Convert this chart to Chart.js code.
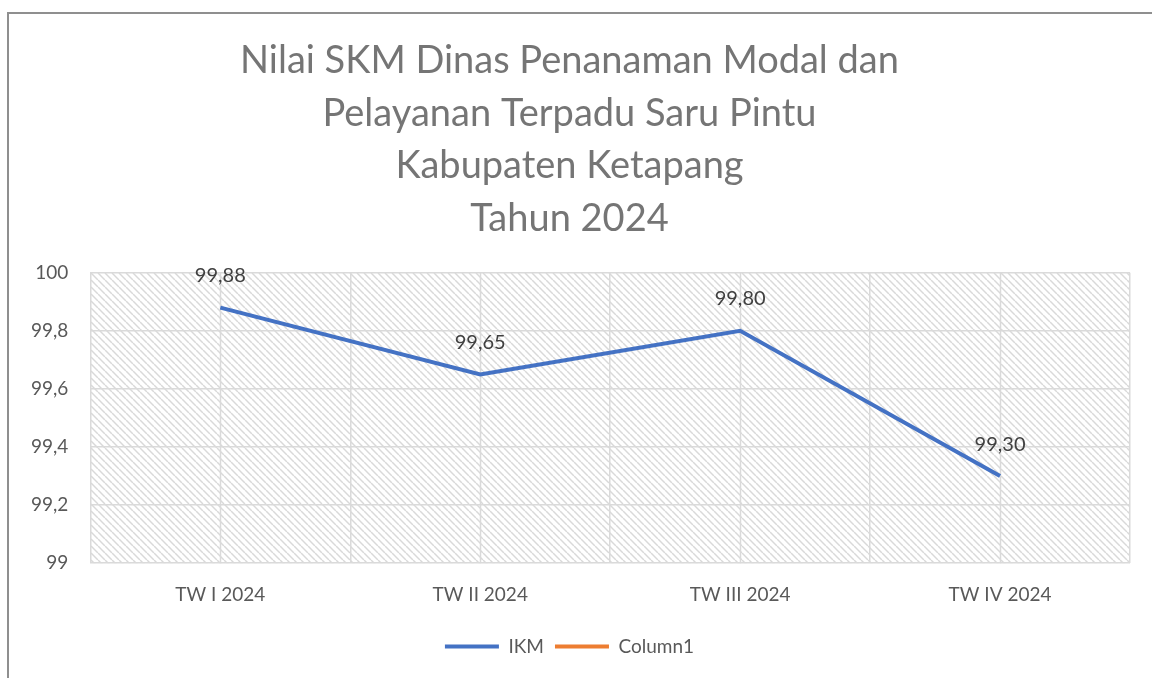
<!DOCTYPE html>
<html>
<head>
<meta charset="utf-8">
<script src="https://cdn.jsdelivr.net/npm/chart.js@4.4.0/dist/chart.umd.min.js"></script>
<style>
  html, body { margin: 0; padding: 0; background: #fff; overflow: hidden; }
  #frame {
    position: absolute; left: 7px; top: 12px; width: 1200px; height: 700px;
    border-left: 2px solid #8f8f8f; border-top: 2px solid #8f8f8f;
  }
  #wrap { position: absolute; left: 0; top: 0; width: 1152px; height: 678px; }
</style>
</head>
<body>
<div id="frame"></div>
<div id="wrap"><canvas id="skmChart"></canvas></div>
<script>
// --- Data ---
const quarters = ['TW I 2024', 'TW II 2024', 'TW III 2024', 'TW IV 2024'];
const ikmValues = [99.88, 99.65, 99.80, 99.30];
const column1Values = [];
const titleLines = ['Nilai SKM Dinas Penanaman Modal dan', 'Pelayanan Terpadu Saru Pintu', 'Kabupaten Ketapang', 'Tahun 2024'];

const fontFamily = 'Lato, "Open Sans", sans-serif';

// diagonal hatch for the plot background
function makeHatch() {
    const size = 7;
    const c = document.createElement('canvas');
    c.width = size; c.height = size;
    const g = c.getContext('2d');
    g.strokeStyle = '#d9d9d9';
    g.lineWidth = 1.5;
    [-size, 0, size].forEach(x0 => {
        g.beginPath();
        g.moveTo(x0, 0);
        g.lineTo(x0 + size, size);
        g.stroke();
    });
    return g.createPattern(c, 'repeat');
}

const plotBackground = {
    id: 'plotBackground',
    beforeDraw(chart) {
        const { ctx, chartArea: a } = chart;
        ctx.save();
        ctx.fillStyle = makeHatch();
        ctx.fillRect(a.left, a.top, a.right - a.left, a.bottom - a.top);
        ctx.restore();
    }
};

// extra vertical gridlines through the category centres
const centreLines = {
    id: 'centreLines',
    beforeDatasetsDraw(chart) {
        const { ctx, chartArea: a, scales: { x } } = chart;
        ctx.save();
        ctx.strokeStyle = '#dadada';
        ctx.lineWidth = 1.5;
        quarters.forEach((q, i) => {
            const px = Math.round(x.getPixelForValue(i)) + 0.5;
            ctx.beginPath();
            ctx.moveTo(px, a.top);
            ctx.lineTo(px, a.bottom);
            ctx.stroke();
        });
        ctx.restore();
    }
};

const fmt = v => v.toFixed(2).replace('.', ',');

const valueLabels = {
    id: 'valueLabels',
    afterDatasetsDraw(chart) {
        const { ctx } = chart;
        const meta = chart.getDatasetMeta(0);
        ctx.save();
        ctx.font = '20px ' + fontFamily;
        ctx.fillStyle = '#404040';
        ctx.textAlign = 'center';
        ctx.textBaseline = 'middle';
        meta.data.forEach((pt, i) => {
            ctx.fillText(fmt(ikmValues[i]), pt.x, pt.y - 32);
        });
        ctx.restore();
    }
};

new Chart(document.getElementById('skmChart'), {
    type: 'line',
    data: {
        labels: quarters,
        datasets: [{
            label: 'IKM',
            data: ikmValues,
            borderColor: '#4472C4',
            backgroundColor: '#4472C4',
            borderWidth: 4,
            pointRadius: 0,
            tension: 0
        }, {
            label: 'Column1',
            data: column1Values,
            borderColor: '#ED7D31',
            backgroundColor: '#ED7D31',
            borderWidth: 4,
            pointRadius: 0
        }]
    },
    options: {
        responsive: true,
        maintainAspectRatio: false,
        animation: false,
        layout: { padding: { left: 9, right: 22, top: 0, bottom: 12 } },
        scales: {
            x: {
                offset: true,
                grid: { color: '#dadada', lineWidth: 1.5, drawTicks: false, offset: true },
                border: { display: false },
                ticks: { color: '#595959', font: { family: fontFamily, size: 19 }, padding: 20 }
            },
            y: {
                min: 99,
                max: 100,
                grid: { color: '#dadada', lineWidth: 1.5, drawTicks: false },
                border: { display: false },
                ticks: {
                    stepSize: 0.2,
                    color: '#595959',
                    font: { family: fontFamily, size: 19 },
                    padding: 22,
                    callback: v => Number.isInteger(v) ? String(v) : v.toFixed(1).replace('.', ',')
                }
            }
        },
        plugins: {
            title: {
                display: true,
                text: titleLines,
                color: '#757575',
                font: { family: fontFamily, size: 38, weight: 'normal', lineHeight: 1.38 },
                padding: { top: 35, bottom: 28 }
            },
            legend: {
                position: 'bottom',
                labels: {
                    color: '#595959',
                    font: { family: fontFamily, size: 19 },
                    boxWidth: 54,
                    boxHeight: 4,
                    padding: 11,
                    generateLabels(chart) {
                        return Chart.defaults.plugins.legend.labels.generateLabels(chart).map(item => {
                            item.lineWidth = 0;
                            return item;
                        });
                    }
                }
            },
            tooltip: { enabled: false }
        }
    },
    plugins: [plotBackground, centreLines, valueLabels]
});
</script>
</body>
</html>
